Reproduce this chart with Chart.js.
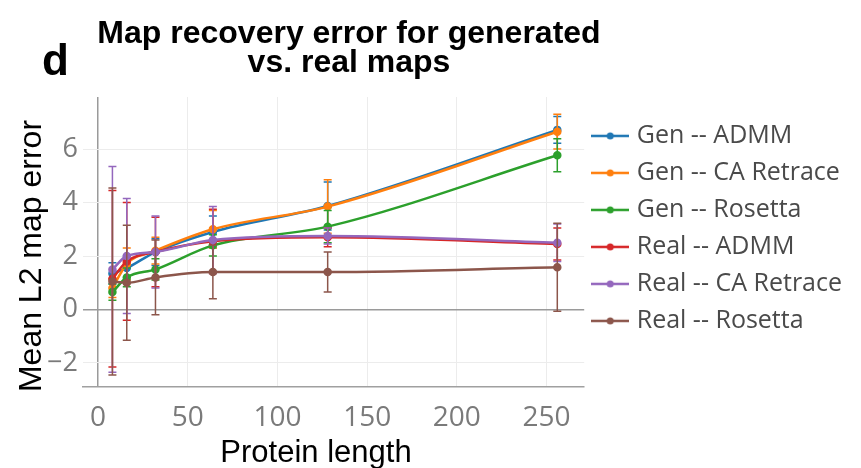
<!DOCTYPE html>
<html>
<head>
<meta charset="utf-8">
<title>Map recovery error</title>
<script src="https://cdn.jsdelivr.net/npm/chart.js@4.4.1/dist/chart.umd.min.js"></script>
<style>
  html, body { margin: 0; padding: 0; background: #fff; }
  #wrap { width: 861px; height: 468px; }
</style>
</head>
<body>
<div id="wrap"><canvas id="chart" width="861" height="468"></canvas></div>
<script>
// protein lengths on the x axis
const proteinLength = [8, 16, 32, 64, 128, 256];

const seriesNames = ['Gen -- ADMM', 'Gen -- CA Retrace', 'Gen -- Rosetta',
                     'Real -- ADMM', 'Real -- CA Retrace', 'Real -- Rosetta'];
const seriesColors = ['#1f77b4', '#ff7f0e', '#2ca02c', '#d62728', '#9467bd', '#8c564b'];

// mean L2 map error and error bar half-widths
const genAdmm = [1.35, 1.55, 2.15, 2.9, 3.87, 6.72];
const genAdmmErr = [0.4, 0.45, 0.5, 0.6, 0.9, 0.5];
const genCaRetrace = [0.8, 1.7, 2.2, 3.0, 3.85, 6.65];
const genCaRetraceErr = [0.35, 0.6, 0.5, 0.7, 1.0, 0.65];
const genRosetta = [0.65, 1.2, 1.5, 2.4, 3.1, 5.77];
const genRosettaErr = [0.3, 0.35, 0.4, 0.4, 0.6, 0.62];
const realAdmm = [1.15, 1.8, 2.15, 2.55, 2.7, 2.45];
const realAdmmErr = [3.3, 2.2, 1.3, 1.2, 0.35, 0.6];
const realCaRetrace = [1.5, 2.0, 2.15, 2.6, 2.75, 2.5];
const realCaRetraceErr = [3.85, 2.15, 1.35, 1.25, 0.3, 0.7];
const realRosetta = [1.05, 1.0, 1.2, 1.4, 1.4, 1.58];
const realRosettaErr = [3.5, 2.15, 1.4, 1.0, 0.75, 1.65];

const seriesValues = [genAdmm, genCaRetrace, genRosetta, realAdmm, realCaRetrace, realRosetta];
const seriesErrors = [genAdmmErr, genCaRetraceErr, genRosettaErr, realAdmmErr, realCaRetraceErr, realRosettaErr];

const yTicks = [-2, 0, 2, 4, 6];
const xTicks = [0, 50, 100, 150, 200, 250];

// small line-with-dot picture for the legend
function legendSymbol(color) {
    const c = document.createElement('canvas');
    c.width = 38;
    c.height = 10;
    const g = c.getContext('2d');
    g.strokeStyle = color;
    g.lineWidth = 2.5;
    g.beginPath();
    g.moveTo(0, 5);
    g.lineTo(38, 5);
    g.stroke();
    g.fillStyle = color;
    g.beginPath();
    g.arc(19, 5, 3.5, 0, Math.PI * 2);
    g.fill();
    return c;
}

// error bars, drawn under each dataset's line
const errorBars = {
    id: 'errorBars',
    beforeDatasetDraw(chart, args) {
        const ds = chart.data.datasets[args.index];
        const yScale = chart.scales.y;
        const ctx = chart.ctx;
        ctx.save();
        ctx.strokeStyle = ds.borderColor;
        ctx.lineWidth = 1.5;
        args.meta.data.forEach((pt, i) => {
            const v = ds.data[i].y;
            const e = ds.errors[i];
            const top = yScale.getPixelForValue(v + e);
            const bot = yScale.getPixelForValue(v - e);
            ctx.beginPath();
            ctx.moveTo(pt.x, top);
            ctx.lineTo(pt.x, bot);
            ctx.moveTo(pt.x - 4, top);
            ctx.lineTo(pt.x + 4, top);
            ctx.moveTo(pt.x - 4, bot);
            ctx.lineTo(pt.x + 4, bot);
            ctx.stroke();
        });
        ctx.restore();
    }
};

// panel letter, title and axis titles
const titles = {
    id: 'titles',
    afterDraw(chart) {
        const ctx = chart.ctx;
        ctx.save();
        ctx.fillStyle = '#000';
        ctx.textBaseline = 'alphabetic';

        ctx.textAlign = 'left';
        ctx.font = 'bold 44px "Liberation Sans", Arial, sans-serif';
        ctx.fillText('d', 42, 75);

        ctx.textAlign = 'center';
        ctx.font = 'bold 32px "Liberation Sans", Arial, sans-serif';
        ctx.fillText('Map recovery error for generated', 349, 43);
        ctx.fillText('vs. real maps', 349, 72);

        ctx.font = '31px "Liberation Sans", Arial, sans-serif';
        ctx.fillText('Protein length', 316, 462);

        ctx.font = '32px "Liberation Sans", Arial, sans-serif';
        ctx.translate(41, 256);
        ctx.rotate(-Math.PI / 2);
        ctx.fillText('Mean L2 map error', 0, 0);
        ctx.restore();
    }
};

const datasets = seriesNames.map((name, i) => ({
    label: name,
    data: proteinLength.map((x, j) => ({ x: x, y: seriesValues[i][j] })),
    errors: seriesErrors[i],
    borderColor: seriesColors[i],
    backgroundColor: seriesColors[i],
    borderWidth: 2.5,
    pointRadius: 3,
    pointHoverRadius: 4,
    cubicInterpolationMode: 'monotone',
    order: seriesNames.length - i
}));

new Chart(document.getElementById('chart'), {
    type: 'line',
    data: { datasets: datasets },
    plugins: [errorBars, titles],
    options: {
        responsive: false,
        animation: false,
        layout: { padding: { top: 97, right: 9, bottom: 0, left: 0 } },
        plugins: {
            legend: {
                position: 'right',
                align: 'start',
                maxWidth: 270,
                title: { display: true, text: ' ', font: { size: 2 }, padding: { top: 12, bottom: 0 } },
                labels: {
                    usePointStyle: true,
                    pointStyleWidth: 28,
                    padding: 12,
                    color: '#4a4a4a',
                    font: { family: '"Open Sans", sans-serif', size: 25 },
                    sort: (a, b) => a.datasetIndex - b.datasetIndex,
                    generateLabels(chart) {
                        const items = Chart.defaults.plugins.legend.labels.generateLabels(chart);
                        items.forEach(it => {
                            it.pointStyle = legendSymbol(seriesColors[it.datasetIndex]);
                        });
                        return items;
                    }
                }
            },
            tooltip: { enabled: false }
        },
        scales: {
            x: {
                type: 'linear',
                min: -8.4,
                max: 271,
                afterFit(scale) { scale.height = 81; },
                afterBuildTicks(scale) { scale.ticks = xTicks.map(v => ({ value: v })); },
                grid: {
                    drawTicks: false,
                    color: ctx => ctx.tick && ctx.tick.value === 0 ? '#9a9a9a' : '#ececec',
                    lineWidth: ctx => ctx.tick && ctx.tick.value === 0 ? 1.5 : 1
                },
                border: { display: true, color: '#a0a0a0', width: 1.5 },
                ticks: {
                    padding: 14,
                    color: '#7a7a7a',
                    font: { family: '"Open Sans", sans-serif', size: 28 },
                    maxRotation: 0
                }
            },
            y: {
                min: -2.9,
                max: 7.95,
                afterFit(scale) { scale.width = 83; },
                afterBuildTicks(scale) { scale.ticks = yTicks.map(v => ({ value: v })); },
                grid: {
                    drawTicks: false,
                    color: ctx => ctx.tick && ctx.tick.value === 0 ? '#9a9a9a' : '#ececec',
                    lineWidth: ctx => ctx.tick && ctx.tick.value === 0 ? 1.5 : 1
                },
                border: { display: false },
                ticks: {
                    padding: 5,
                    color: '#7a7a7a',
                    font: { family: '"Open Sans", sans-serif', size: 27 },
                    callback: v => v < 0 ? '\u2212' + Math.abs(v) : String(v)
                }
            }
        }
    }
});
</script>
</body>
</html>
